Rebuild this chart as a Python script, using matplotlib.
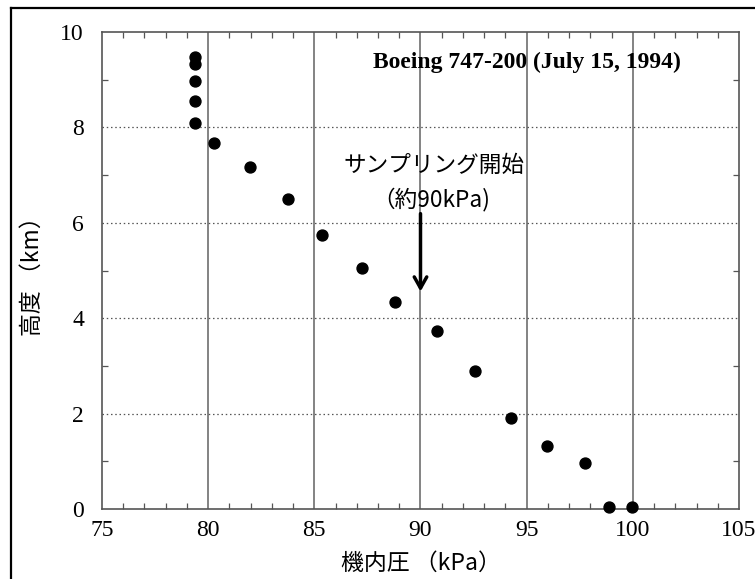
import matplotlib
matplotlib.use("Agg")
import matplotlib.pyplot as plt
from matplotlib.lines import Line2D
from matplotlib.ticker import MultipleLocator

pressure_kpa = [79.37, 79.37, 79.37, 79.37, 79.37, 80.28, 81.97, 83.76, 85.36,
                87.23, 88.82, 90.78, 92.57, 94.25, 95.96, 97.73, 98.88, 99.95]
altitude_km = [9.47, 9.32, 8.97, 8.55, 8.10, 7.68, 7.16, 6.49, 5.75,
               5.06, 4.34, 3.73, 2.90, 1.90, 1.32, 0.96, 0.04, 0.04]

x_ticks = [75, 80, 85, 90, 95, 100, 105]
y_ticks = [0, 2, 4, 6, 8, 10]
title_text = "Boeing 747-200 (July 15, 1994)"
note_text = "サンプリング開始"
note_sub = "（約90kPa)"
xlabel_text = "機内圧 （kPa）"
ylabel_text = "高度 （km）"
sampling_start = 90

jp = ["Noto Sans CJK JP", "DejaVu Sans"]
serif = ["Liberation Serif", "DejaVu Serif"]

fig = plt.figure(figsize=(7.55, 5.79), dpi=100)
ax = fig.add_axes([0.1351, 0.1209, 0.9788 - 0.1351, 0.9447 - 0.1209])

ax.set_xlim(75, 105)
ax.set_ylim(0, 10)
ax.set_xticks(x_ticks)
ax.set_yticks(y_ticks)
ax.xaxis.set_minor_locator(MultipleLocator(1))
ax.yaxis.set_minor_locator(MultipleLocator(1))

for v in x_ticks[1:-1]:
    ax.axvline(v, color="#7a7a7a", lw=1.3, zorder=1)
for v in y_ticks[1:-1]:
    ax.axhline(v, color="#555555", lw=0.9, ls=(0, (1.2, 2.2)), zorder=1)

ax.scatter(pressure_kpa, altitude_km, s=62, color="black", zorder=3, clip_on=False)

for s in ax.spines.values():
    s.set_color("#555555")
    s.set_linewidth(1.2)

ax.tick_params(which="both", direction="in", top=True, right=True, color="#555555")
ax.tick_params(which="major", length=0, labelsize=17)
ax.tick_params(which="minor", length=4.5, width=0.9)
ax.tick_params(axis="x", which="major", pad=8)
ax.tick_params(axis="y", which="major", pad=13)
for lab in ax.get_xticklabels() + ax.get_yticklabels():
    lab.set_fontfamily(serif)

ax.text(95.02, 9.36, title_text, ha="center", va="center", fontsize=17,
        fontweight="bold", family=serif, zorder=4)
ax.text(90.62, 7.2, note_text, ha="center", va="center", fontsize=16.3, family=jp, zorder=4)
ax.text(90.5, 6.5, note_sub, ha="center", va="center", fontsize=16.3, family=jp, zorder=4)
ax.annotate("", xy=(sampling_start, 4.5), xytext=(sampling_start, 6.25),
            arrowprops=dict(arrowstyle="->,head_length=0.8,head_width=0.45",
                            color="black", lw=2.5), zorder=4)

ax.set_xlabel(xlabel_text, family=jp, fontsize=16.5, labelpad=8)
ax.set_ylabel(ylabel_text, family=jp, fontsize=16.5, labelpad=12)

# outer frame (top and left)
fig.add_artist(Line2D([11 / 755, 1.0], [1 - 8 / 579, 1 - 8 / 579], color="black", lw=1.6,
                      transform=fig.transFigure))
fig.add_artist(Line2D([11 / 755, 11 / 755], [0, 1 - 8 / 579], color="black", lw=1.6,
                      transform=fig.transFigure))

fig.savefig("out.png", dpi=100)
